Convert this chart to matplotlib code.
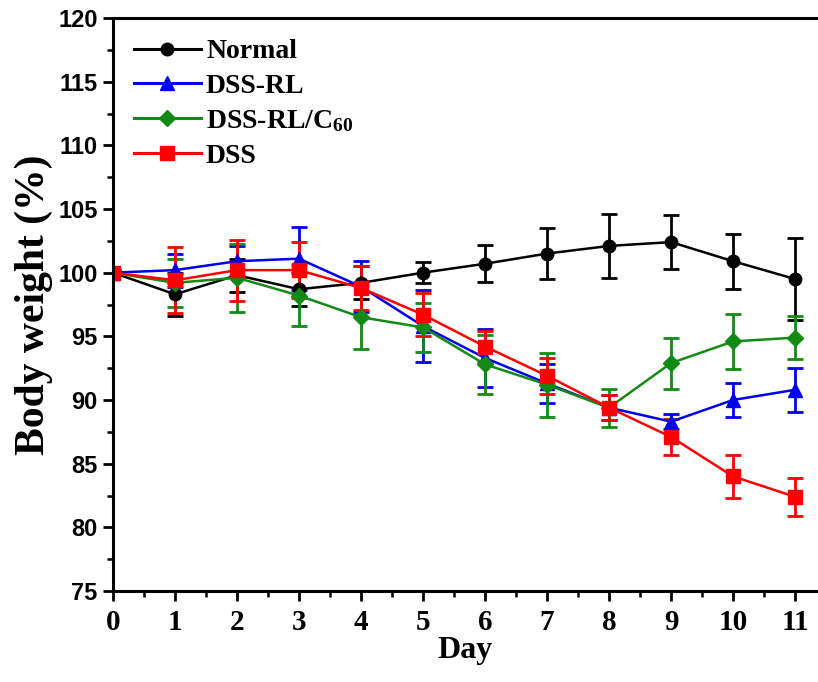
import matplotlib
matplotlib.use("Agg")
import matplotlib.pyplot as plt
from matplotlib.ticker import MultipleLocator
from matplotlib.lines import Line2D

plt.rcParams['mathtext.fontset'] = 'custom'
plt.rcParams['mathtext.rm'] = 'Liberation Serif:bold'
plt.rcParams['mathtext.bf'] = 'Liberation Serif:bold'
plt.rcParams['mathtext.it'] = 'Liberation Serif:bold'

days = list(range(12))

normal = [100.0, 98.3, 99.8, 98.7, 99.2, 100.0, 100.7, 101.5, 102.1, 102.4, 100.9, 99.5]
normal_err = [0.2, 1.7, 1.3, 1.3, 1.3, 0.8, 1.45, 2.0, 2.5, 2.1, 2.15, 3.2]

dss_rl = [100.0, 100.2, 100.9, 101.1, 98.9, 95.8, 93.3, 91.3, 89.4, 88.3, 90.0, 90.8]
dss_rl_err = [0.2, 1.3, 1.2, 2.5, 2.0, 2.8, 2.3, 1.5, 1.0, 0.6, 1.35, 1.75]

dss_rl_c60 = [100.0, 99.2, 99.6, 98.2, 96.5, 95.7, 92.8, 91.2, 89.4, 92.9, 94.6, 94.9]
dss_rl_c60_err = [0.2, 1.9, 2.65, 2.4, 2.5, 1.95, 2.3, 2.5, 1.5, 2.0, 2.15, 1.7]

dss = [100.0, 99.4, 100.2, 100.2, 98.8, 96.7, 94.2, 91.9, 89.4, 87.1, 84.0, 82.4]
dss_err = [0.2, 2.6, 2.4, 2.2, 1.7, 1.7, 1.2, 1.4, 1.0, 1.4, 1.7, 1.5]

series = [
    ("Normal", normal, normal_err, "black", "o", 9),
    ("DSS-RL", dss_rl, dss_rl_err, "#0000ee", "^", 10),
    (r"DSS-RL/C$_{60}$", dss_rl_c60, dss_rl_c60_err, "#138a13", "D", 8.5),
    ("DSS", dss, dss_err, "#ff0000", "s", 9.5),
]

fig = plt.figure(figsize=(8.18, 6.82), dpi=100)
ax = fig.add_axes([113 / 818, 1 - 591 / 682, 1 - 113 / 818, (591 - 18) / 682])

handles = []
for label, vals, errs, color, marker, ms in series:
    ax.errorbar(days, vals, yerr=errs, color=color, marker=marker, markersize=ms,
                linewidth=1.8, elinewidth=2.0, capsize=6, capthick=2.0)
    handles.append(Line2D([], [], color=color, marker=marker, markersize=ms,
                          linewidth=2.2, label=label))

ax.set_xlim(0, 11.37)
ax.set_ylim(75, 120)
ax.xaxis.set_major_locator(MultipleLocator(1))
ax.xaxis.set_minor_locator(MultipleLocator(0.5))
ax.yaxis.set_major_locator(MultipleLocator(5))
ax.yaxis.set_minor_locator(MultipleLocator(2.5))

ax.spines['right'].set_visible(False)
for s in ['left', 'bottom', 'top']:
    ax.spines[s].set_linewidth(2.2)

ax.tick_params(which='major', direction='out', length=7, width=2.0, top=False, right=False)
ax.tick_params(which='minor', direction='out', length=4, width=1.8, top=False, right=False)

for t in ax.get_xticklabels():
    t.set_fontfamily('Liberation Serif')
    t.set_fontweight('bold')
    t.set_fontsize(21)
for t in ax.get_yticklabels():
    t.set_fontfamily('Liberation Sans')
    t.set_fontweight('bold')
    t.set_fontsize(17)
ax.tick_params(axis='x', pad=6)
ax.tick_params(axis='y', pad=4)

ax.set_xlabel("Day", fontfamily='Liberation Serif', fontweight='bold', fontsize=23, labelpad=0)
ax.set_ylabel("Body weight (%)", fontfamily='Liberation Serif', fontweight='bold', fontsize=30, labelpad=4)

ax.legend(handles=handles, loc='upper left', bbox_to_anchor=(0.0, 1.0), frameon=False,
          prop={'family': 'Liberation Serif', 'weight': 'bold', 'size': 20},
          handlelength=2.4, handletextpad=0.2, labelspacing=0.33,
          borderaxespad=0.35, numpoints=1)

fig.savefig("out.png", dpi=100)
